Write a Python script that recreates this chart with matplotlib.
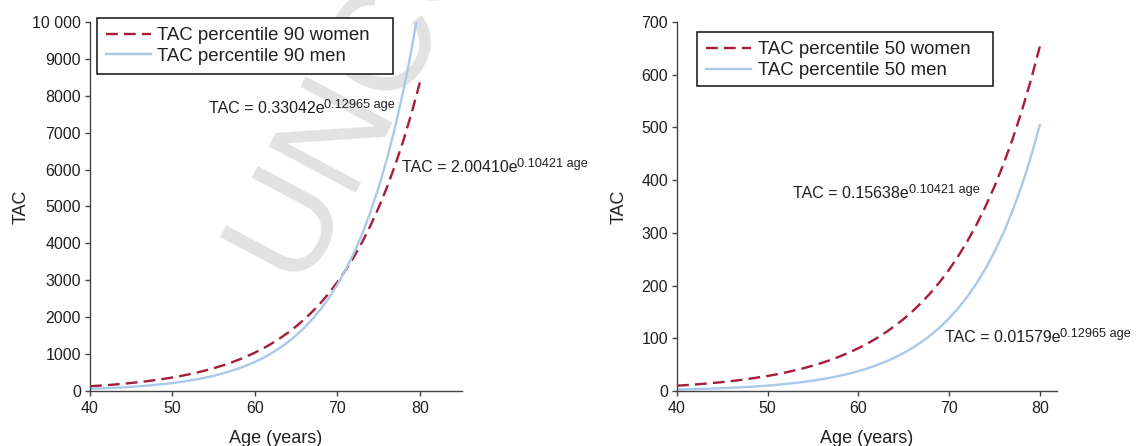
import matplotlib
matplotlib.use("Agg")
import matplotlib.pyplot as plt
from matplotlib.patches import Rectangle

plt.rcParams['font.family'] = ['Liberation Sans', 'DejaVu Sans']

# values (TAC by age, one per year)
age = list(range(40, 81))
women_p90 = [129, 143, 159, 176, 196, 218, 242, 269, 298, 331, 367, 407, 452, 502,
             557, 618, 686, 761, 845, 938, 1041, 1155, 1283, 1424, 1580, 1754, 1946,
             2160, 2396, 2659, 2953, 3277, 3637, 4036, 4481, 4973, 5519, 6125, 6795,
             7541, 8366]
men_p90 = [59, 67, 77, 88, 99, 113, 129, 147, 167, 190, 216, 246, 280, 319, 363,
           413, 470, 535, 609, 693, 790, 899, 1023, 1165, 1326, 1510, 1719, 1957,
           2228, 2536, 2887, 3287, 3742, 4260, 4850, 5521, 6286, 7156, 8146, 9274,
           10557]
women_p50 = [10.1, 11.2, 12.4, 13.8, 15.3, 17.0, 18.9, 21.0, 23.3, 25.9, 28.6, 31.7,
             35.3, 39.2, 43.5, 48.3, 53.5, 59.4, 66.0, 73.2, 81.2, 90.1, 100.1, 111.1,
             123.3, 136.8, 151.9, 168.6, 187.0, 207.5, 230.4, 255.7, 283.8, 315.0,
             349.6, 388.0, 430.7, 478.0, 530.5, 588.8, 653.5]
men_p50 = [2.8, 3.2, 3.7, 4.2, 4.7, 5.4, 6.1, 7.0, 8.0, 9.1, 10.3, 11.7, 13.4, 15.3,
           17.3, 19.7, 22.5, 25.6, 29.1, 33.1, 37.7, 42.9, 48.9, 55.7, 63.4, 72.2,
           82.2, 93.6, 106.5, 121.2, 138.0, 157.1, 178.8, 203.5, 231.8, 263.9, 300.4,
           342.0, 389.3, 443.2, 504.6]

x_ticks = [40, 50, 60, 70, 80]
y_ticks_p90 = [0, 1000, 2000, 3000, 4000, 5000, 6000, 7000, 8000, 9000, 10000]
y_labels_p90 = ["0", "1000", "2000", "3000", "4000", "5000", "6000", "7000", "8000", "9000", "10 000"]
y_ticks_p50 = [0, 100, 200, 300, 400, 500, 600, 700]

WOMEN_C = "#a51d36"
MEN_C = "#a9c9ea"
TXT_C = "#231f20"
AX_C = "#444444"


def style_axis(ax, xmax, ymax, yticks, ylabels):
    ax.set_facecolor("none")
    ax.set_xlim(40, xmax)
    ax.set_ylim(0, ymax)
    ax.spines["top"].set_visible(False)
    ax.spines["right"].set_visible(False)
    for s in ("left", "bottom"):
        ax.spines[s].set_color(AX_C)
        ax.spines[s].set_linewidth(1.0)
    ax.set_xticks(x_ticks)
    ax.set_yticks(yticks)
    ax.set_yticklabels(ylabels)
    ax.tick_params(direction="out", length=3.5, width=1.0, color=AX_C,
                   labelsize=11.5, labelcolor=TXT_C)
    ax.tick_params(axis="y", pad=3)
    ax.tick_params(axis="x", pad=4)
    ax.set_xlabel("Age (years)", fontsize=13, color=TXT_C)
    ax.set_ylabel("TAC", fontsize=13, color=TXT_C)


def formula(ax, x, y, main, sup):
    t = ax.text(x, y, main, fontsize=11.5, color=TXT_C, ha="left", va="center")
    ax.annotate(sup, xy=(1.0, 0.47), xycoords=t, fontsize=9.2, color=TXT_C,
                ha="left", va="baseline")


def legend_box(ax, x0, y0, x1, y1, labels):
    ax.add_patch(Rectangle((x0, y0), x1 - x0, y1 - y0, transform=ax.transAxes,
                           facecolor="white", edgecolor="#111111", lw=1.1,
                           clip_on=False, zorder=4))
    leg = ax.legend(labels, loc="upper left", bbox_to_anchor=(x0, y1),
                    frameon=False, fontsize=13.4, borderpad=0.5, borderaxespad=0,
                    labelspacing=0.2, handlelength=2.4, handletextpad=0.35)
    leg.set_zorder(5)
    for t in leg.get_texts():
        t.set_color(TXT_C)


fig = plt.figure(figsize=(11.36, 4.46), dpi=100)

# watermark behind everything
fig.text(0.2665, 0.344, "UNCORRECTED PROOF", fontsize=102, color="#e2e2e2",
         rotation=62, rotation_mode="anchor", ha="left", va="baseline", zorder=-1)

ax1 = fig.add_axes([0.0792, 0.1233, 0.3275, 0.8274])
ax2 = fig.add_axes([0.5960, 0.1233, 0.3345, 0.8274])

ax1.plot(age, women_p90, color=WOMEN_C, lw=1.7, dashes=(5, 2.6))
ax1.plot(age, men_p90, color=MEN_C, lw=1.7)
style_axis(ax1, 85.1, 10000, y_ticks_p90, y_labels_p90)
ax1.yaxis.set_label_coords(-0.161, 0.5)
ax1.xaxis.set_label_coords(0.5, -0.106)
legend_box(ax1, 0.0188, 0.859, 0.8145, 1.011,
           ["TAC percentile 90 women", "TAC percentile 90 men"])
formula(ax1, 54.4, 7669, "TAC = 0.33042e", "0.12965 age")
formula(ax1, 77.8, 6070, "TAC = 2.00410e", "0.10421 age")

ax2.plot(age, women_p50, color=WOMEN_C, lw=1.7, dashes=(5, 2.6))
ax2.plot(age, men_p50, color=MEN_C, lw=1.7)
style_axis(ax2, 81.9, 700, y_ticks_p50, [str(v) for v in y_ticks_p50])
ax2.yaxis.set_label_coords(-0.131, 0.5)
ax2.xaxis.set_label_coords(0.5, -0.106)
legend_box(ax2, 0.0526, 0.8266, 0.8316, 0.9729,
           ["TAC percentile 50 women", "TAC percentile 50 men"])
formula(ax2, 52.8, 375.6, "TAC = 0.15638e", "0.10421 age")
formula(ax2, 69.5, 102.4, "TAC = 0.01579e", "0.12965 age")

fig.savefig("out.png", dpi=100)
